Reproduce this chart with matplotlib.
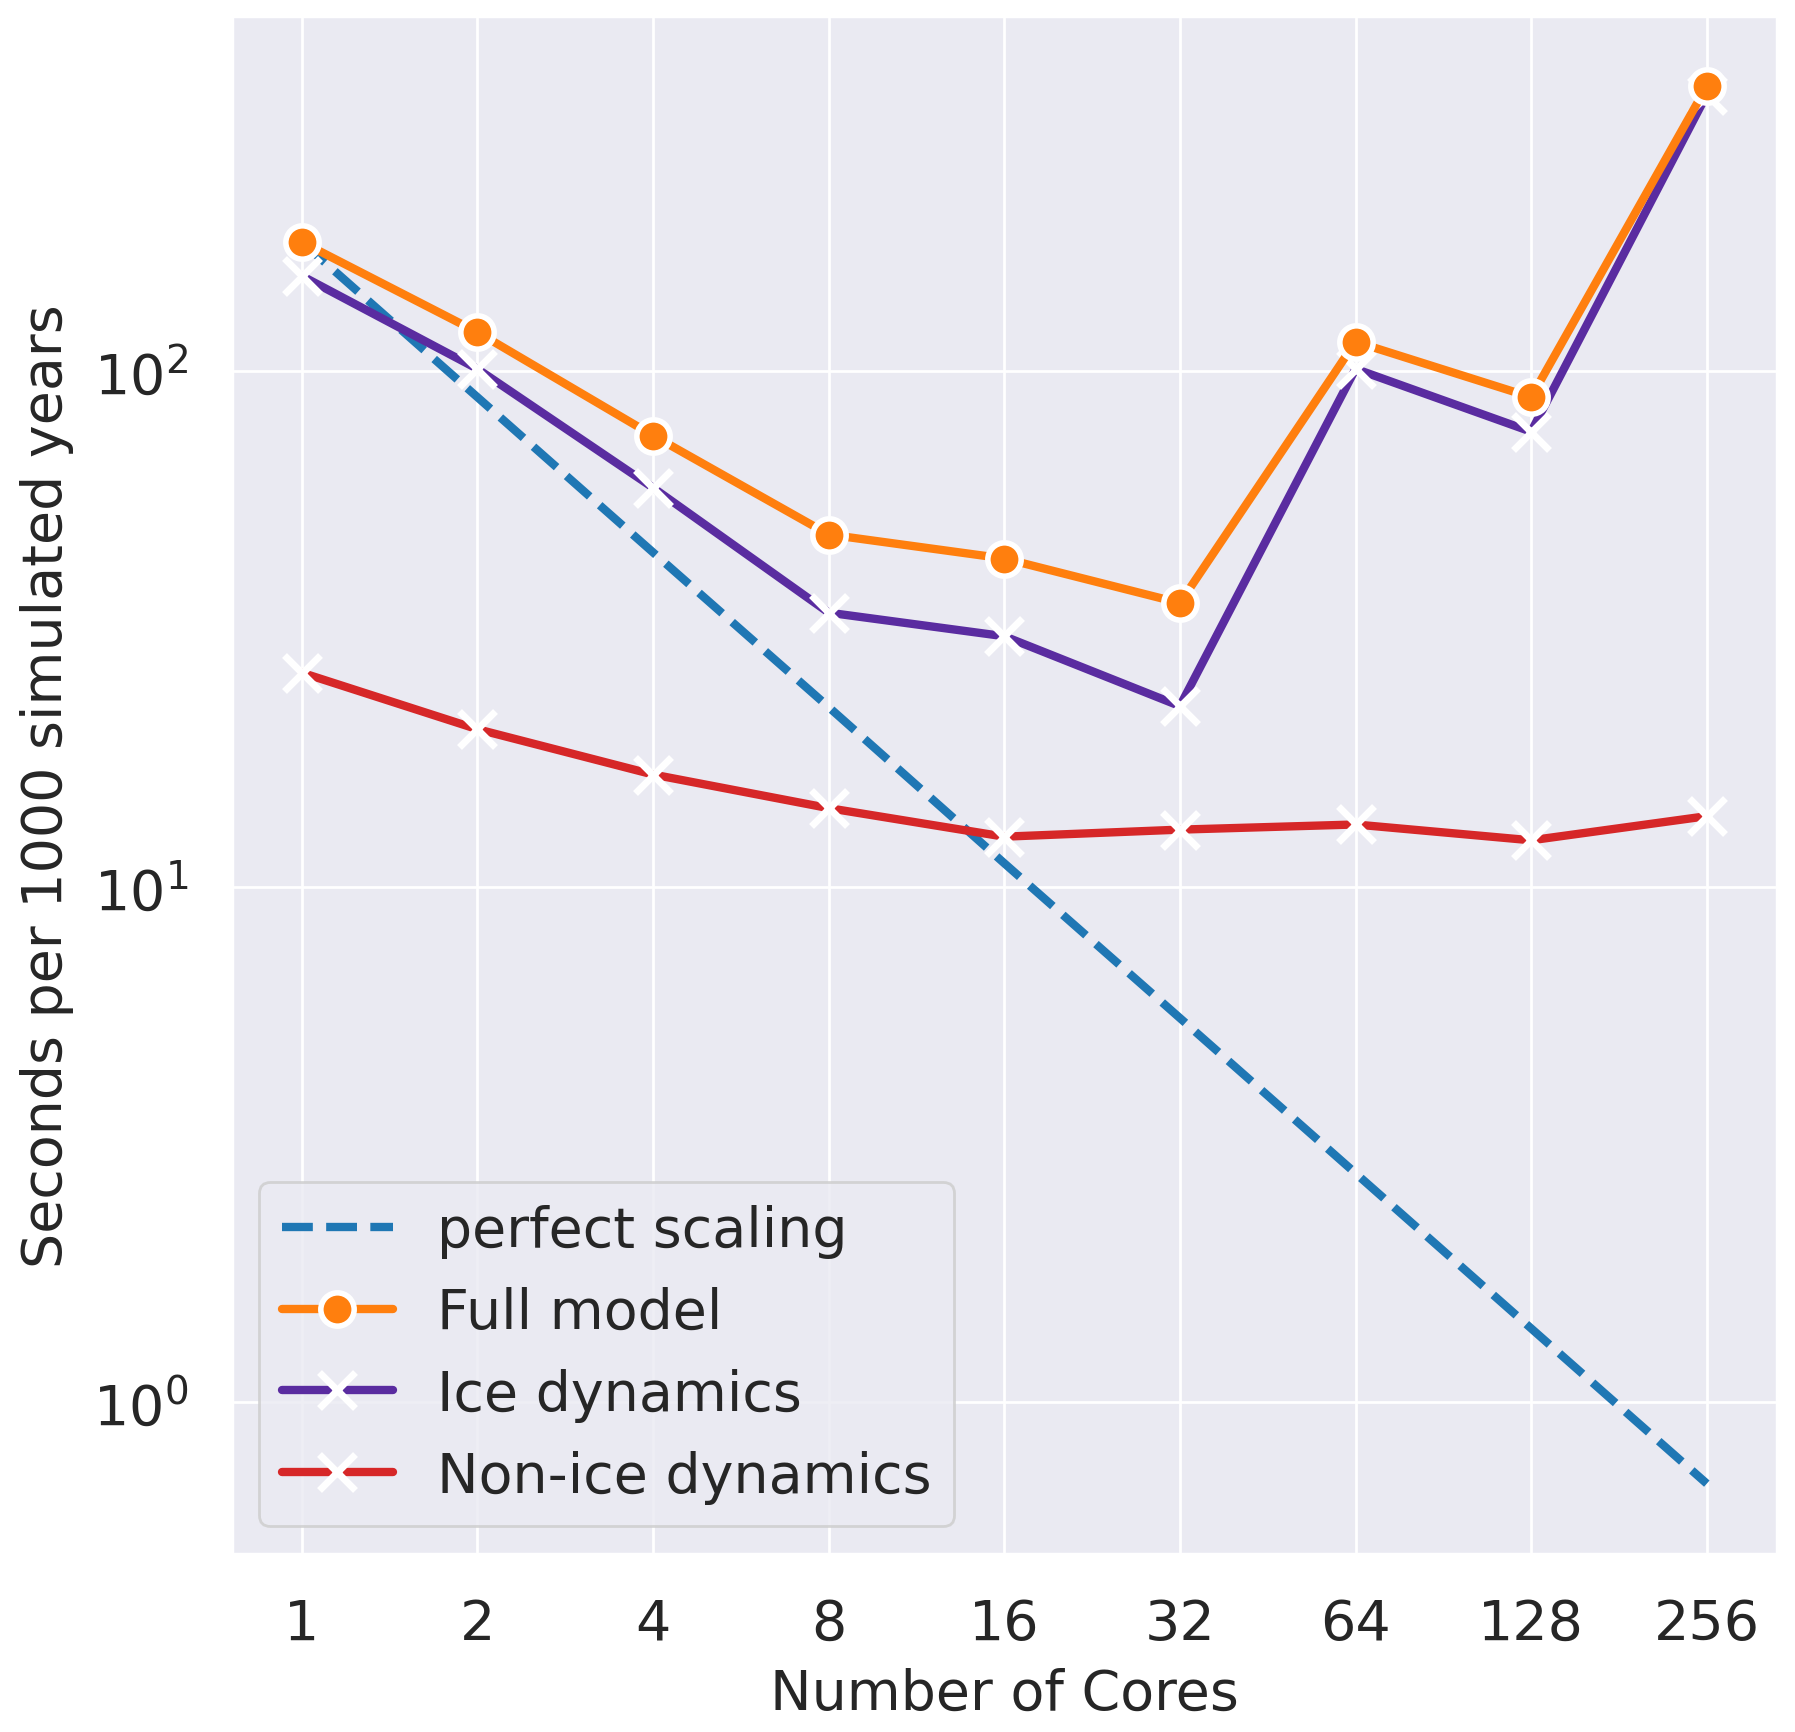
import matplotlib
matplotlib.use("Agg")
import matplotlib.pyplot as plt
import seaborn as sns

cores = [1, 2, 4, 8, 16, 32, 64, 128, 256]
tick_labels = ["1", "2", "4", "8", "16", "32", "64", "128", "256"]
perfect_scaling = [178, 89, 44.5, 22.3, 11.1, 5.56, 2.78, 1.39, 0.695]
full_model = [178, 119, 75, 48.2, 43.3, 35.5, 114, 89, 357]
ice_dynamics = [153, 101, 59.4, 34, 30.6, 22.4, 101, 76.3, 344]
non_ice_dynamics = [26, 20.2, 16.5, 14.2, 12.5, 12.9, 13.2, 12.3, 13.7]

sns.set_theme(style="darkgrid", font_scale=1.6)
plt.rcParams['font.family'] = ['DejaVu Sans']

fig = plt.figure(figsize=(1795 / 200, 1733 / 200), dpi=200)
ax = fig.add_axes([0.129, 0.103, 0.861, 0.887])

lw = 3
h_perf, = ax.plot(cores, perfect_scaling, ls="--", color="#1f77b4", lw=lw, label="perfect scaling", zorder=2)
h_ice, = ax.plot(cores, ice_dynamics, color="#5a2ca0", lw=lw, marker="x", ms=13, mew=2.5, mec="white",
                 label="Ice dynamics", zorder=3)
h_non, = ax.plot(cores, non_ice_dynamics, color="#d62728", lw=lw, marker="x", ms=13, mew=2.5, mec="white",
                 label="Non-ice dynamics", zorder=3)
h_full, = ax.plot(cores, full_model, color="#ff7f0e", lw=lw, marker="o", ms=12, mew=2, mec="white",
                  label="Full model", zorder=4)

ax.set_xscale("log", base=2)
ax.set_yscale("log")
ax.set_xticks(cores)
ax.set_xticklabels(tick_labels)
ax.minorticks_off()
xpad = plt.rcParams['xtick.major.pad'] + 6
ypad = plt.rcParams['ytick.major.pad'] + 6
ax.tick_params(axis="x", labelsize=20, pad=xpad)
ax.tick_params(axis="y", labelsize=20, pad=ypad)
ax.set_xlabel("Number of Cores", fontsize=20, labelpad=6)
ax.set_ylabel("Seconds per 1000 simulated years", fontsize=20, labelpad=7)
ax.legend(handles=[h_perf, h_full, h_ice, h_non], loc="lower left", fontsize=20)

fig.savefig("out.png", dpi=200)
